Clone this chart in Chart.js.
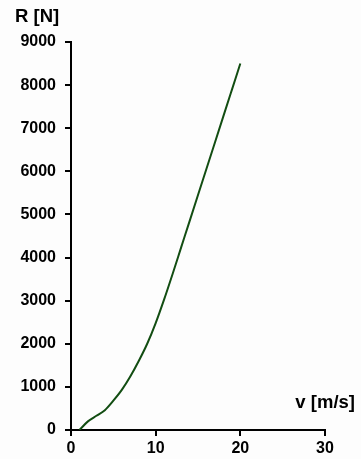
<!DOCTYPE html>
<html>
<head>
<meta charset="utf-8">
<script src="https://cdn.jsdelivr.net/npm/chart.js@4/dist/chart.umd.min.js"></script>
<style>
  html, body { margin: 0; padding: 0; background: #fdfdfd; }
  #wrap { width: 361px; height: 459px; }
</style>
</head>
<body>
<div id="wrap"><canvas id="c" width="361" height="459"></canvas></div>
<script>
// Speed v [m/s] and resistance R [N]
const speed = [1, 2, 3, 4, 5, 6, 7, 8, 9, 10, 11, 12, 13, 14, 15, 16, 17, 18, 19, 20];
const resistance = [0, 200, 330, 460, 680, 930, 1240, 1600, 2000, 2480, 3030, 3620, 4230, 4840, 5450, 6060, 6670, 7280, 7890, 8500];
const xTicks = [0, 10, 20, 30];
const yTicks = [0, 1000, 2000, 3000, 4000, 5000, 6000, 7000, 8000, 9000];
const yTitle = 'R [N]';
const xTitle = 'v [m/s]';

const points = speed.map((v, i) => ({ x: v, y: resistance[i] }));

const tickFont = { family: '"Liberation Sans", Arial, sans-serif', size: 16, weight: 'bold' };

// Axis captions placed beside the plot area
const axisCaptions = {
  id: 'axisCaptions',
  afterDraw(chart) {
    const { ctx, chartArea } = chart;
    ctx.save();
    ctx.fillStyle = '#000';
    ctx.font = 'bold 18.5px "Liberation Sans", Arial, sans-serif';
    ctx.textBaseline = 'middle';
    ctx.textAlign = 'left';
    ctx.fillText(yTitle, 15, 17);
    ctx.textAlign = 'right';
    ctx.fillText(xTitle, 355, chartArea.bottom - 27);
    ctx.restore();
  }
};

new Chart(document.getElementById('c'), {
  type: 'scatter',
  data: {
    datasets: [{
      data: points,
      showLine: true,
      borderColor: '#124d12',
      borderWidth: 2,
      pointRadius: 0,
      cubicInterpolationMode: 'monotone',
      fill: false
    }]
  },
  options: {
    responsive: false,
    animation: false,
    layout: { padding: { left: 0, top: 42, right: 36, bottom: 0 } },
    plugins: { legend: { display: false }, tooltip: { enabled: false } },
    scales: {
      x: {
        type: 'linear',
        min: 0,
        max: 30,
        afterBuildTicks(scale) { scale.ticks = xTicks.map(v => ({ value: v })); },
        afterFit(scale) { scale.height = 29; },
        grid: { display: true, drawOnChartArea: false, drawTicks: true, tickLength: 6, color: '#000', lineWidth: 2 },
        border: { display: true, color: '#000', width: 2 },
        ticks: { color: '#000', font: tickFont, padding: 3, maxRotation: 0, callback: v => String(v) }
      },
      y: {
        type: 'linear',
        min: 0,
        max: 9000,
        afterBuildTicks(scale) { scale.ticks = yTicks.map(v => ({ value: v })); },
        afterFit(scale) { scale.width = 71; },
        grid: { display: true, drawOnChartArea: false, drawTicks: true, tickLength: 6, color: '#000', lineWidth: 2 },
        border: { display: true, color: '#000', width: 2 },
        ticks: { color: '#000', font: tickFont, padding: 9, callback: v => String(v) }
      }
    }
  },
  plugins: [axisCaptions]
});
</script>
</body>
</html>
